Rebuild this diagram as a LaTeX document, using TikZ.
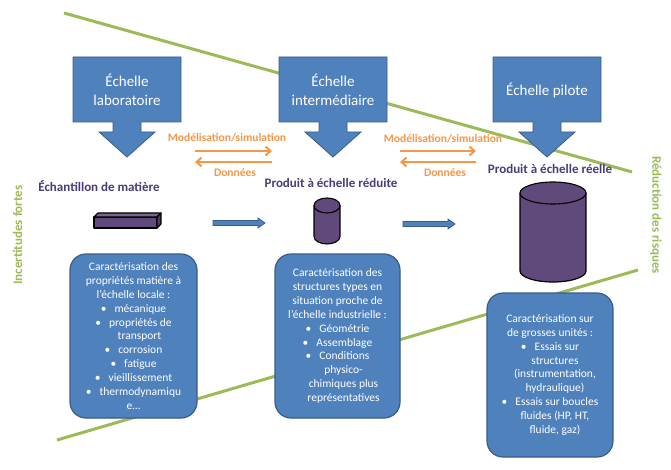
\documentclass[tikz,border=0pt]{standalone}
\usepackage{fontspec}
\setmainfont{Carlito}
\usetikzlibrary{arrows.meta}
\definecolor{boxblue}{HTML}{4F81BD}
\definecolor{boxborder}{HTML}{385D8A}
\definecolor{matpurple}{HTML}{604A7B}
\definecolor{txtpurple}{HTML}{4A3C78}
\definecolor{arrorange}{HTML}{F79646}
\definecolor{riskgreen}{HTML}{9BBB59}
\tikzset{
  greenline/.style={draw=riskgreen, line width=3pt},
  bluearrow/.style={fill=boxblue, draw=boxborder, line width=0.8pt, line join=miter},
  scaletext/.style={text=white, align=center, font=\fontsize{15}{18.5}\selectfont, inner sep=0pt},
  orangearrow/.style={draw=arrorange, line width=2.6pt, -{Straight Barb[length=5pt,width=9pt,line width=2pt]}},
  orangelabel/.style={text=arrorange, font=\bfseries\fontsize{11.5}{13}\selectfont, inner sep=0pt},
  objlabel/.style={text=txtpurple, font=\bfseries\fontsize{13}{15}\selectfont, inner sep=0pt},
  solid3d/.style={fill=matpurple, draw=black, line width=1.1pt, line join=round},
  flowarrow/.style={fill=boxblue, draw=boxborder, line width=0.8pt},
  infobox/.style={fill=boxblue, draw=boxborder, line width=1.2pt, rounded corners=16pt, text=white, align=center, font=\fontsize{11.5}{13.9}\selectfont, inner sep=0pt},
  sidelabel/.style={text=riskgreen, font=\bfseries\fontsize{13}{15}\selectfont, inner sep=0pt},
}
\newcommand\scaleblock[3]{%
  \begin{scope}[xshift=#1pt]
    \draw[bluearrow] (-54,-57) -- (54,-57) -- (54,-122) -- (14,-122) -- (14,-132) -- (28,-132) -- (0,-157) -- (-28,-132) -- (-14,-132) -- (-14,-122) -- (-54,-122) -- cycle;
    \node[scaletext] (#2) at (0,-90) {#3};
  \end{scope}}
\begin{document}
\begin{tikzpicture}[x=1pt,y=1pt]
\useasboundingbox (0,0) rectangle (671,-470);
\fill[white] (0,0) rectangle (671,-470);

% green trend lines
\coordinate (gt1) at (64,-13);
\coordinate (gt2) at (632,-172);
\coordinate (gb1) at (57,-440);
\coordinate (gb2) at (638,-270);
\draw[greenline] (gt1) -- (gt2);
\draw[greenline] (gb1) -- (gb2);

% scale block arrows
\scaleblock{127}{labo}{Échelle\\laboratoire}
\scaleblock{333}{inter}{Échelle\\intermédiaire}
\scaleblock{547}{pilote}{Échelle pilote}

% orange exchange arrows
\coordinate (a1l) at (195,-151);
\coordinate (a1r) at (272,-151);
\coordinate (b1l) at (195,-162);
\coordinate (b1r) at (272,-162);
\draw[orangearrow] (a1l) -- (a1r);
\draw[orangearrow] (b1r) -- (b1l);
\node[orangelabel] (mod1) at (227,-138) {Modélisation/simulation};
\node[orangelabel] (don1) at (235,-173) {Données};
\coordinate (a2l) at (400,-151);
\coordinate (a2r) at (476,-151);
\coordinate (b2l) at (400,-162);
\coordinate (b2r) at (476,-162);
\draw[orangearrow] (a2l) -- (a2r);
\draw[orangearrow] (b2r) -- (b2l);
\node[orangelabel] (mod2) at (443,-139) {Modélisation/simulation};
\node[orangelabel] (don2) at (445,-173) {Données};

% object labels
\node[objlabel] (lab1) at (99,-186) {Échantillon de matière};
\node[objlabel] (lab2) at (331,-183) {Produit à échelle réduite};
\node[objlabel] (lab3) at (550,-169) {Produit à échelle réelle};

% material sample (prism)
\draw[solid3d] (94,-217) rectangle (157,-228);
\draw[solid3d, fill=matpurple!85!white] (94,-217) -- (98,-213) -- (161,-213) -- (157,-217) -- cycle;
\draw[solid3d, fill=matpurple!80!black] (157,-217) -- (161,-213) -- (161,-224) -- (157,-228) -- cycle;

% small cylinder
\fill[matpurple] (314,-205.5) rectangle (340,-236.5);
\fill[matpurple] (327,-236.5) ellipse [x radius=13, y radius=7.5];
\draw[black, line width=1.1pt] (314,-205.5) -- (314,-236.5) arc[start angle=180, end angle=360, x radius=13, y radius=7.5] -- (340,-205.5);
\draw[solid3d] (327,-205.5) ellipse [x radius=13, y radius=7.5];

% big cylinder
\fill[matpurple] (520,-193) rectangle (586,-271);
\fill[matpurple] (553,-271) ellipse [x radius=33, y radius=11];
\draw[black, line width=1.2pt] (520,-193) -- (520,-271) arc[start angle=180, end angle=360, x radius=33, y radius=11] -- (586,-193);
\draw[solid3d] (553,-193) ellipse [x radius=33, y radius=11];

% flow block arrows
\draw[flowarrow] (213,-220.5) -- (258,-220.5) -- (258,-218) -- (265,-223) -- (258,-228) -- (258,-225.5) -- (213,-225.5) -- cycle;
\draw[flowarrow] (403,-221.5) -- (448,-221.5) -- (448,-219) -- (455,-224) -- (448,-229) -- (448,-226.5) -- (403,-226.5) -- cycle;

% info boxes
\node[infobox, minimum width=127pt, minimum height=164pt] (box1) at (133.5,-336) {%
Caractérisation des\\
propriétés matière à\\
l’échelle locale :\\
\textbullet\hspace{8pt}mécanique\\
\textbullet\hspace{8pt}propriétés de\\
\hspace*{12pt}transport\\
\textbullet\hspace{8pt}corrosion\\
\textbullet\hspace{8pt}fatigue\\
\textbullet\hspace{8pt}vieillissement\\
\textbullet\hspace{8pt}thermodynamiqu\\
e…};
\node[infobox, minimum width=125pt, minimum height=164pt] (box2) at (337.5,-336) {%
Caractérisation des\\
structures types en\\
situation proche de\\
l’échelle industrielle :\\
\textbullet\hspace{8pt}Géométrie\\
\textbullet\hspace{8pt}Assemblage\\
\textbullet\hspace{8pt}Conditions\\
\hspace*{12pt}physico-\\
\hspace*{12pt}chimiques plus\\
\hspace*{12pt}représentatives};
\node[infobox, minimum width=126pt, minimum height=164pt] (box3) at (550,-375) {%
Caractérisation sur\\
de grosses unités :\\
\textbullet\hspace{8pt}Essais sur\\
\hspace*{10pt}structures\\
\hspace*{10pt}(instrumentation,\\
\hspace*{10pt}hydraulique)\\
\textbullet\hspace{8pt}Essais sur boucles\\
\hspace*{10pt}fluides (HP, HT,\\
\hspace*{10pt}fluide, gaz)};

% side labels
\node[sidelabel, rotate=90] (incert) at (17.5,-235) {Incertitudes fortes};
\node[sidelabel, rotate=-90] (reduc) at (656,-215) {Réduction des risques};
\end{tikzpicture}
\end{document}
